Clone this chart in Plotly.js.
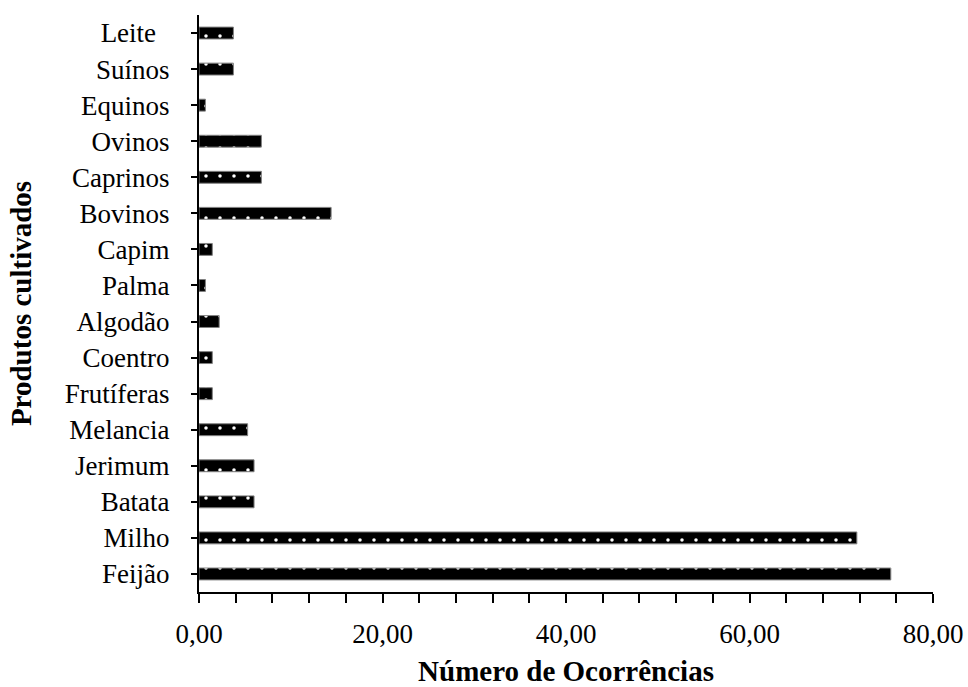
<!DOCTYPE html>
<html>
<head>
<meta charset="utf-8">
<script src="https://cdn.plot.ly/plotly-3.0.1.min.js"></script>
<style>html,body{margin:0;padding:0;background:#fff;}#chart{width:968px;height:687px;}</style>
</head>
<body>
<div id="chart"></div>
<script>
// Categories, bottom to top
const categories = ["Feijão", "Milho", "Batata", "Jerimum", "Melancia", "Frutíferas", "Coentro", "Algodão", "Palma", "Capim", "Bovinos", "Caprinos", "Ovinos", "Equinos", "Suínos", "Leite\u00A0\u00A0"];
const values = [75.4, 71.7, 6.0, 6.0, 5.3, 1.45, 1.45, 2.2, 0.7, 1.45, 14.4, 6.8, 6.8, 0.7, 3.75, 3.75];
const xTickVals = [0, 20, 40, 60, 80];
const xTitle = "Número de Ocorrências";
const yTitle = "Produtos cultivados";

const boundaries = categories.map((c, i) => i - 0.5).concat([categories.length - 0.5]);

const FONT = "Liberation Serif, Times New Roman, serif";

const trace = {
  type: "bar",
  orientation: "h",
  x: values,
  y: categories,
  marker: {
    color: "#000000",
    line: {color: "#808080", width: 1},
    pattern: {shape: ".", fgcolor: "#ffffff", bgcolor: "#000000", size: 14, solidity: 0.05, fillmode: "replace"}
  },
  hoverinfo: "x+y"
};

const layout = {
  width: 968, height: 687,
  margin: {l: 199, r: 35, t: 15, b: 95, pad: 0},
  paper_bgcolor: "#ffffff", plot_bgcolor: "#ffffff",
  separators: ",.",
  showlegend: false,
  bargap: 0.67,
  font: {family: FONT, color: "#000000", size: 27},
  xaxis: {
    range: [0, 80], tickvals: xTickVals, tickformat: ".2f",
    showgrid: false, zeroline: false,
    showline: true, linecolor: "#000", linewidth: 2,
    ticks: "outside", ticklen: 9, tickwidth: 2, tickcolor: "#000",
    minor: {dtick: 4, ticks: "outside", ticklen: 9, tickwidth: 2, tickcolor: "#000", showgrid: false},
    ticklabelstandoff: 8,
    tickfont: {family: FONT, size: 27, color: "#000"},
    title: {text: "<b>" + xTitle + "</b>", font: {family: FONT, size: 29, color: "#000"}, standoff: 12},
    fixedrange: true
  },
  xaxis2: {
    overlaying: "x", matches: "x", range: [0, 80], tickvals: xTickVals, showticklabels: false,
    showgrid: false, zeroline: false, showline: false,
    ticks: "inside", ticklen: 5, tickwidth: 2, tickcolor: "#000",
    minor: {dtick: 4, ticks: "inside", ticklen: 5, tickwidth: 2, tickcolor: "#000", showgrid: false},
    anchor: "y"
  },
  yaxis: {
    type: "category", categoryarray: categories, categoryorder: "array",
    range: [-0.5, categories.length - 0.5],
    showgrid: false, zeroline: false,
    showline: true, linecolor: "#000", linewidth: 2,
    ticks: "outside", ticklen: 6, tickwidth: 2, tickcolor: "#000",
    ticklabelstandoff: 16,
    tickfont: {family: FONT, size: 27, color: "#000"},
    title: {text: "<b>" + yTitle + "</b>", font: {family: FONT, size: 29, color: "#000"}, standoff: 24},
    fixedrange: true
  },
  yaxis2: {
    overlaying: "y", range: [-0.5, categories.length - 0.5], tickvals: boundaries, showticklabels: false,
    showgrid: false, zeroline: false, showline: false,
    ticks: "outside", ticklen: 8, tickwidth: 2, tickcolor: "#000", anchor: "x"
  },
  yaxis3: {
    overlaying: "y", range: [-0.5, categories.length - 0.5], tickvals: boundaries, showticklabels: false,
    showgrid: false, zeroline: false, showline: false,
    ticks: "inside", ticklen: 8, tickwidth: 2, tickcolor: "#000", anchor: "x"
  }
};

Plotly.newPlot("chart", [trace], layout, {displayModeBar: false, staticPlot: true});
</script>
</body>
</html>
